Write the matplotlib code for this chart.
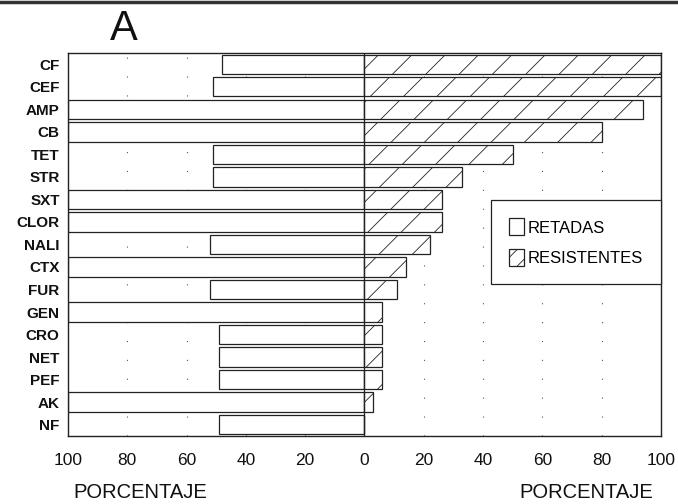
import matplotlib.pyplot as plt
import matplotlib.patches as mpatches
import numpy as np

plt.rcParams['font.family'] = ['Liberation Sans', 'DejaVu Sans']
plt.rcParams['hatch.linewidth'] = 0.6

# antibioticos (de arriba hacia abajo)
drugs = ["CF", "CEF", "AMP", "CB", "TET", "STR", "SXT", "CLOR", "NALI",
         "CTX", "FUR", "GEN", "CRO", "NET", "PEF", "AK", "NF"]
# porcentaje retadas (lado izquierdo)
retadas = [48, 51, 100, 100, 51, 51, 100, 100, 52, 100, 52, 100, 49, 49, 49, 100, 49]
# porcentaje resistentes (lado derecho)
resistentes = [100, 100, 94, 80, 50, 33, 26, 26, 22, 14, 11, 6, 6, 6, 6, 3, 0]
ticks = [-100, -80, -60, -40, -20, 0, 20, 40, 60, 80, 100]
tick_labels = ["100", "80", "60", "40", "20", "0", "20", "40", "60", "80", "100"]

fig = plt.figure(figsize=(6.78, 5.04), dpi=100)
ax = fig.add_axes([0.1003, 0.135, 0.8746, 0.7599])

y = np.arange(len(drugs))
# grid punteado
for t in [-80, -60, -40, -20, 20, 40, 60, 80]:
    ax.axvline(t, color="#555555", lw=0.8, ls=(0, (1, 16)), zorder=0)

ax.barh(y, [-v for v in retadas], height=0.86, color="white",
        edgecolor="#222222", lw=0.9, zorder=2)
ax.barh(y, resistentes, height=0.86, color="white", hatch="/",
        edgecolor="#222222", lw=0.9, zorder=2)
ax.axvline(0, color="#222222", lw=0.9, zorder=3)

ax.set_xlim(-100, 100)
ax.set_ylim(len(drugs) - 0.5, -0.5)
ax.set_yticks(y)
ax.set_yticklabels(drugs, fontsize=11, fontweight="semibold", color="#111111")
ax.set_xticks(ticks)
ax.set_xticklabels(tick_labels, fontsize=12.5, color="#111111")
ax.tick_params(length=0, pad=6)
ax.tick_params(axis="x", pad=12)
for s in ax.spines.values():
    s.set_color("#222222")
    s.set_linewidth(1.0)

h1 = mpatches.Patch(facecolor="white", edgecolor="#222222", lw=0.9)
h2 = mpatches.Patch(facecolor="white", edgecolor="#222222", lw=0.9, hatch="//")
leg = ax.legend([h1, h2], ["RETADAS", "RESISTENTES"], loc="upper right",
                bbox_to_anchor=(1.0, 0.616), borderaxespad=0, fancybox=False,
                fontsize=12, handlelength=0.9, handleheight=1.2,
                handletextpad=0.2, borderpad=1.1, labelspacing=0.8,
                edgecolor="#222222", framealpha=1)
leg.get_frame().set_linewidth(0.9)
leg.set_zorder(5)

fig.text(0.182, 0.921, "A", fontsize=30, ha="center", va="baseline", color="#111111")
fig.text(0.207, 0.012, "PORCENTAJE", fontsize=14.5, ha="center", color="#111111")
fig.text(0.864, 0.012, "PORCENTAJE", fontsize=14.5, ha="center", color="#111111")
fig.add_artist(plt.Line2D([0, 1], [0.997, 0.997], color="#333333", lw=2.5,
                          transform=fig.transFigure))

fig.savefig("out.png", dpi=100)
